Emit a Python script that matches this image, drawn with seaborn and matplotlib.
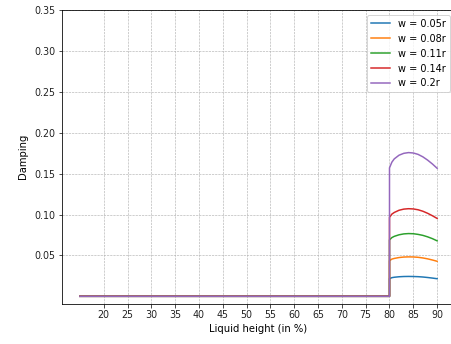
import matplotlib
matplotlib.use("Agg")
import matplotlib.pyplot as plt
import seaborn as sns
import pandas as pd

# Flat region (liquid height below 80 %)
pre_x = [15, 20, 25, 30, 35, 40, 45, 50, 55, 60, 65, 70, 75, 80]
pre_y = [0.0] * len(pre_x)

# Region after the jump at 80 %
post_x = [80, 80.5, 81, 82, 83, 84, 85, 86, 87, 88, 89, 90]

labels = ["w = 0.05r", "w = 0.08r", "w = 0.11r", "w = 0.14r", "w = 0.2r"]
vals_005 = [0.0215, 0.0228, 0.0233, 0.0239, 0.0242, 0.0243, 0.0242, 0.0240, 0.0236, 0.0230, 0.0223, 0.0215]
vals_008 = [0.0435, 0.0455, 0.0463, 0.0474, 0.0480, 0.0482, 0.0481, 0.0477, 0.0469, 0.0458, 0.0444, 0.0428]
vals_011 = [0.0690, 0.0718, 0.0733, 0.0752, 0.0763, 0.0767, 0.0765, 0.0757, 0.0745, 0.0727, 0.0705, 0.0678]
vals_014 = [0.0965, 0.1005, 0.1025, 0.1052, 0.1066, 0.1071, 0.1068, 0.1058, 0.1040, 0.1015, 0.0985, 0.0952]
vals_020 = [0.1570, 0.1640, 0.1680, 0.1725, 0.1748, 0.1757, 0.1752, 0.1735, 0.1705, 0.1665, 0.1618, 0.1565]
series = [vals_005, vals_008, vals_011, vals_014, vals_020]

xticks = [20, 25, 30, 35, 40, 45, 50, 55, 60, 65, 70, 75, 80, 85, 90]
yticks = [0.05, 0.10, 0.15, 0.20, 0.25, 0.30, 0.35]

rows = []
for lab, vals in zip(labels, series):
    for x, y in zip(pre_x + post_x, pre_y + vals):
        rows.append({"x": x, "y": y, "w": lab})
df = pd.DataFrame(rows)

fig = plt.figure(figsize=(451 / 72, 344 / 72), dpi=72)
ax = fig.add_axes([62 / 451, (344 - 303.5) / 344, (455 - 62) / 451, (303.5 - 10) / 344])

palette = ["#1f77b4", "#ff7f0e", "#2ca02c", "#d62728", "#9467bd"]
sns.lineplot(data=df, x="x", y="y", hue="w", palette=palette, estimator=None,
             sort=False, units="w", ax=ax, linewidth=1.5)

ax.set_xlim(11.25, 93.75)
ax.set_ylim(top=0.35)
ax.spines["right"].set_visible(False)
ax.set_xticks(xticks)
ax.set_yticks(yticks)
ax.set_yticklabels([f"{v:.2f}" for v in yticks])
ax.tick_params(labelsize=9.5, colors="#222222")
ax.grid(True, linestyle="--", color="#b0b0b0", linewidth=0.6)
ax.set_xlabel("Liquid height (in %)", labelpad=3)
ax.set_ylabel("Damping", labelpad=6)
ax.legend(loc="upper right", title=None, fontsize=9.8)

fig.savefig("out.png", dpi=72)
